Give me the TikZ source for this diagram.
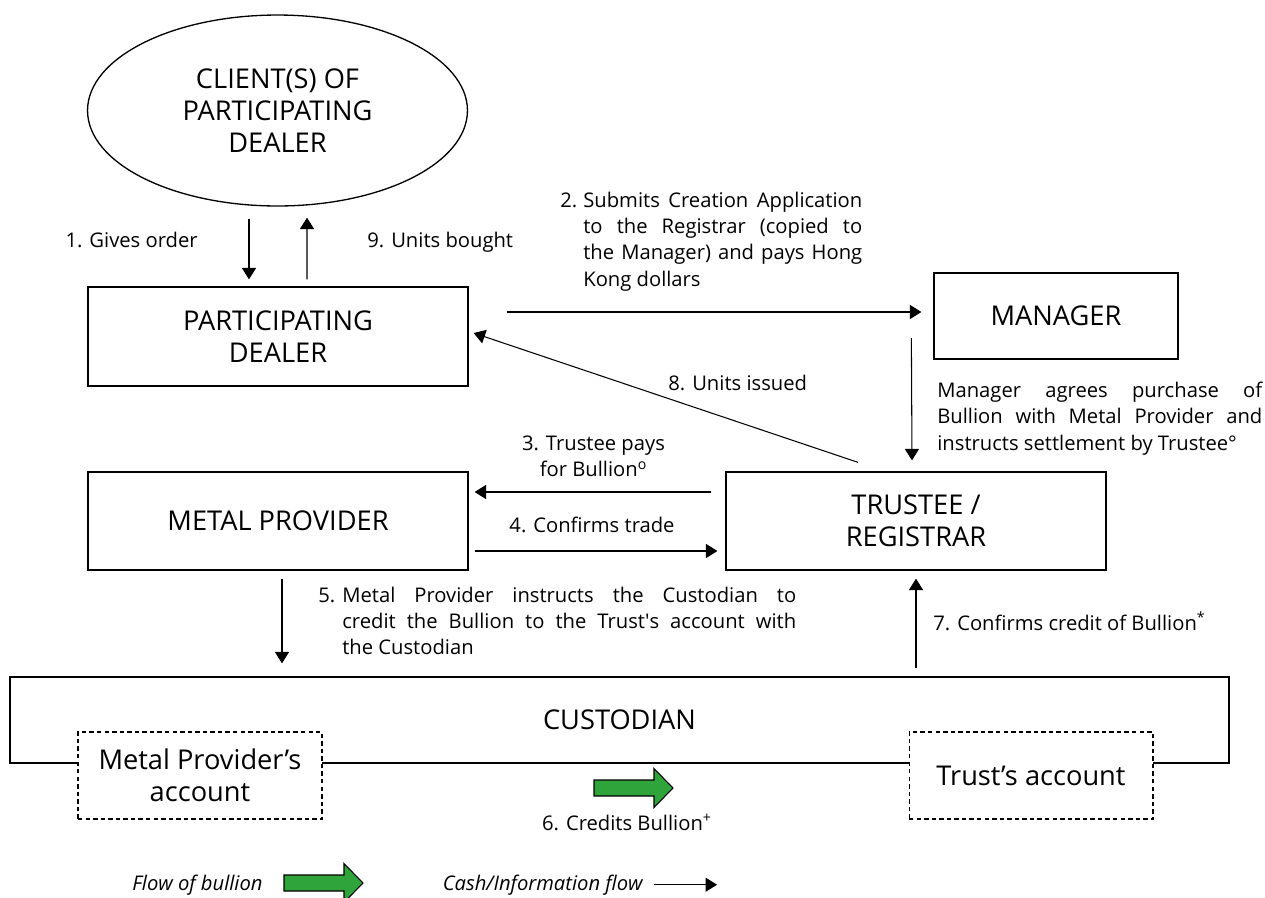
\documentclass[tikz,border=0pt]{standalone}
\usepackage{fontspec}
\setmainfont{Open Sans}
\usetikzlibrary{shapes.geometric,arrows.meta,calc}
\definecolor{bullgreen}{RGB}{46,164,58}
\newcommand\boxfont{\fontsize{15.5}{18}\selectfont}
\newcommand\lblfont{\fontsize{11.5}{15}\selectfont}
\tikzset{
  party/.style={draw, line width=0.75pt, inner sep=0pt, align=center, font=\boxfont},
  account/.style={draw, dash pattern=on 2.5pt off 1.8pt, fill=white, line width=0.6pt,
    inner sep=0pt, align=center, font=\boxfont, minimum width=4.88cm, minimum height=1.74cm},
  flow/.style={-{Triangle[length=6.5pt,width=8pt]}, line width=0.6pt},
  lbl/.style={inner sep=0pt, font=\lblfont},
  bullion/.pic={
    \draw[fill=bullgreen, line width=0.6pt] (-39.5,-8) -- (20.5,-8) -- (20.5,-19.5) -- (39.5,0)
      -- (20.5,19.5) -- (20.5,8) -- (-39.5,8) -- cycle;
  }
}
\begin{document}
\begin{tikzpicture}[x=0.02cm,y=-0.02cm]
		\useasboundingbox (0,0) rectangle (1265,897);
		% parties
		\node[party, ellipse, minimum width=7.6cm, minimum height=3.82cm] (clients) at (277.5,110.5) {CLIENT(S) OF\\PARTICIPATING\\DEALER};
		\node[party, minimum width=7.6cm, minimum height=1.98cm] (pd) at (278,336.5) {PARTICIPATING\\DEALER};
		\node[party, minimum width=4.88cm, minimum height=1.72cm] (mgr) at (1056,316) {MANAGER};
		\node[party, minimum width=7.6cm, minimum height=1.96cm] (mp) at (278,521) {METAL PROVIDER};
		\node[party, minimum width=7.6cm, minimum height=1.96cm] (trustee) at (916,521) {TRUSTEE /\\REGISTRAR};
		\node[party, minimum width=24.38cm, minimum height=1.72cm] (cust) at (619.5,720) {CUSTODIAN};
		\node[account] (mpacc) at (200,775.5) {Metal Provider’s\\account};
		\node[account] (tracc) at (1031,775.5) {Trust’s account};
		% cash and information flows
		\draw[flow] ($(clients.south)+(-28.5,12)$) -- ($(pd.north)+(-29,-7)$);
		\draw[flow] ($(pd.north)+(29,-7)$) -- ($(clients.south)+(29.5,11)$);
		\draw[flow] ($(pd.east)+(38,-24.5)$) -- ($(mgr.west)+(-12,-4)$);
		\draw[flow] ($(mgr.west)+(-22,22)$) -- ($(trustee.north)+(-4,-11)$);
		\draw[flow] ($(trustee.north)+(-58,-9)$) -- ($(pd.east)+(5,-3.5)$);
		\draw[flow] ($(trustee.west)+(-14,-29)$) -- ($(mp.east)+(6,-29)$);
		\draw[flow] ($(mp.east)+(6,30)$) -- ($(trustee.west)+(-8,30)$);
		\draw[flow] ($(mp.south)+(4,8)$) -- ($(mp.south |- cust.north)+(4,-13)$);
		\draw[flow] ($(trustee.south |- cust.north)+(0,-8)$) -- ($(trustee.south)+(0,8)$);
		% labels
		\node[lbl, anchor=base east] (step1) at (198,247) {1. Gives order};
		\node[lbl, anchor=base west] (step9) at (367,247) {9. Units bought};
		\node[lbl, anchor=north west, text width=6.04cm, align=justify] (step2) at (560,191.5)
			{\hangindent=0.46cm\hangafter=1\noindent\makebox[0.46cm][l]{2.}Submits Creation Application\linebreak to the Registrar (copied to\linebreak the Manager) and pays Hong\linebreak Kong dollars\par};
		\node[lbl, anchor=north west, text width=6.5cm, align=justify] (agree) at (937,381.5)
			{Manager agrees purchase of\linebreak Bullion with Metal Provider and\linebreak instructs settlement by Trustee°\par};
		\node[lbl, anchor=base west] (step8) at (668,390) {8. Units issued};
		\node[lbl, anchor=north, align=center] (step3) at (593.5,435.5) {3. Trustee pays\\for Bullion\textsuperscript{o}};
		\node[lbl, anchor=base] (step4) at (592,532) {4. Confirms trade};
		\node[lbl, anchor=north west, text width=9.56cm, align=justify] (step5) at (318,586.5)
			{\hangindent=0.48cm\hangafter=1\noindent\makebox[0.48cm][l]{5.}Metal Provider instructs the Custodian to\linebreak credit the Bullion to the Trust\textquotesingle s account with\linebreak the Custodian\par};
		\node[lbl, anchor=base west] (step7) at (933,630) {7. Confirms credit of Bullion\textsuperscript{*}};
		% bullion flow
		\pic at (633.5,788) {bullion};
		\node[lbl, anchor=base] (step6) at (627,830) {6. Credits Bullion\textsuperscript{+}};
		% legend
		\node[lbl, anchor=base east, font=\lblfont\itshape] (legbull) at (263,890) {Flow of bullion};
		\pic at (323.5,883) {bullion};
		\node[lbl, anchor=base east, font=\lblfont\itshape] (legcash) at (643,890) {Cash/Information flow};
		\coordinate (cashend) at ($(legcash.east)+(74,0)$);
		\draw[flow] ($(legcash.east)+(11,0)$) -- (cashend);
\end{tikzpicture}
\end{document}
